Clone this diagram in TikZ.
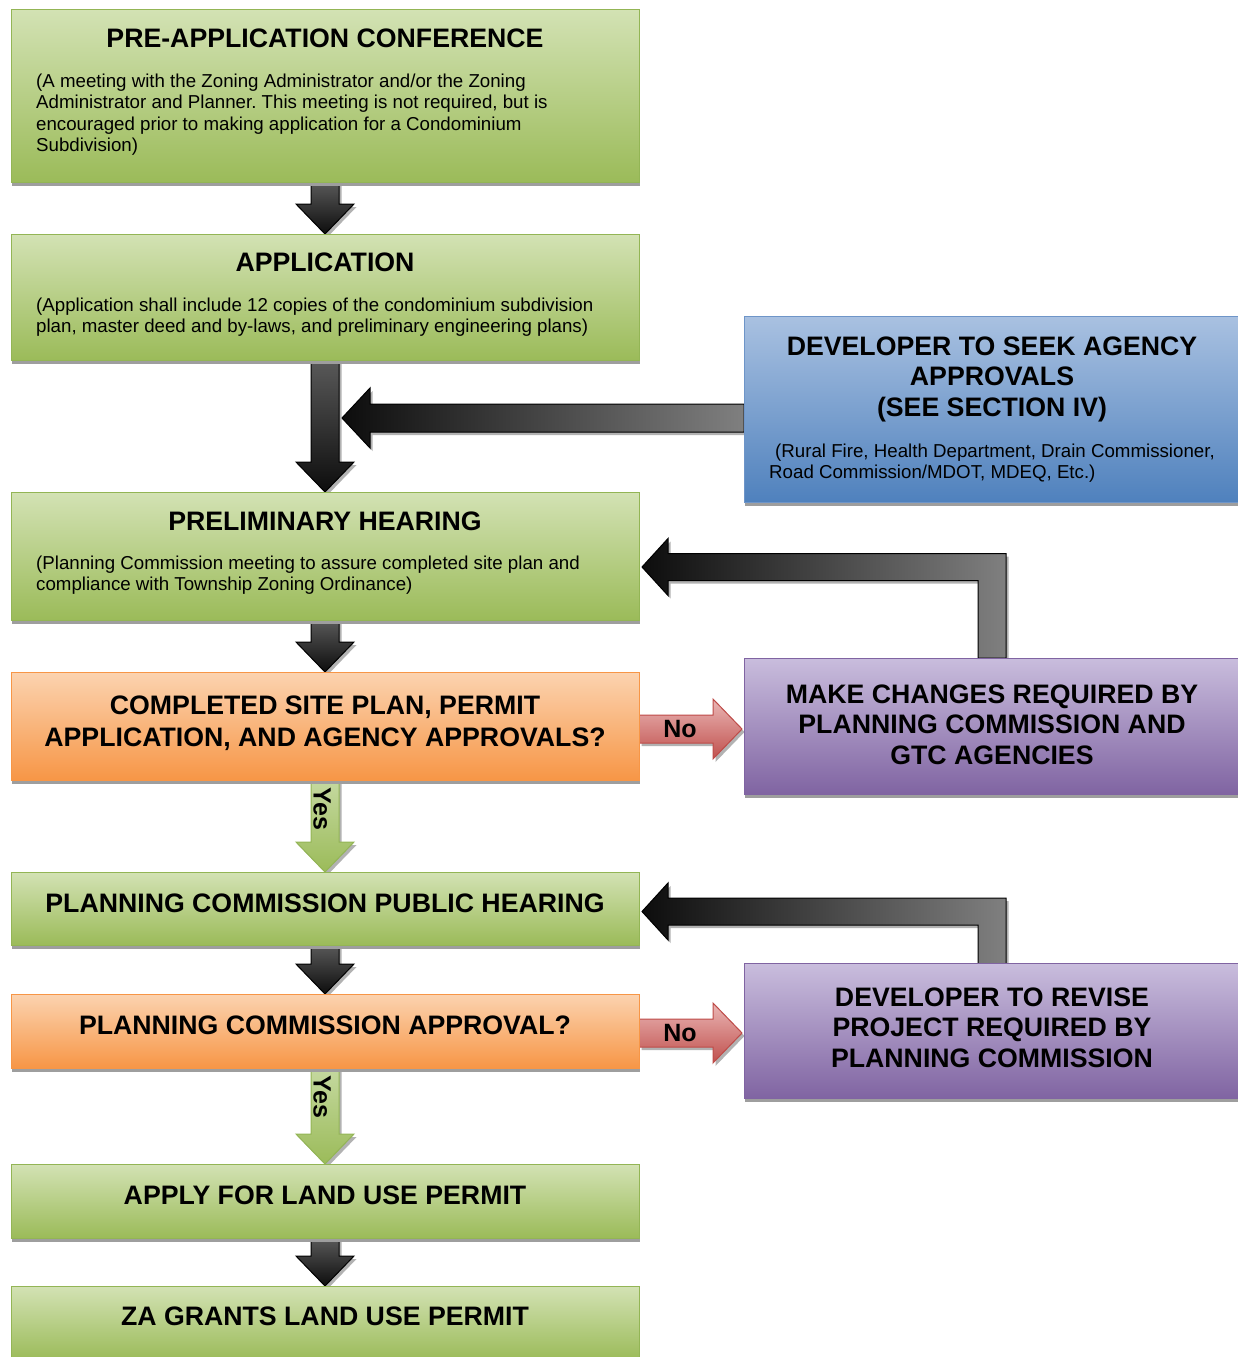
\documentclass[tikz,border=0pt]{standalone}
\usepackage{fontspec}
\setmainfont{Liberation Sans}
\usetikzlibrary{positioning,calc,shadows,backgrounds}
\frenchspacing

\definecolor{greentop}{HTML}{D3E2B4}
\definecolor{greenbot}{HTML}{9BBB59}
\definecolor{greenline}{HTML}{93B555}
\definecolor{yestop}{HTML}{C5D9A0}
\definecolor{orangetop}{HTML}{FBD3B0}
\definecolor{orangebot}{HTML}{F79646}
\definecolor{orangeline}{HTML}{F79646}
\definecolor{bluetop}{HTML}{A9C1E1}
\definecolor{bluebot}{HTML}{4F81BD}
\definecolor{blueline}{HTML}{6E95C8}
\definecolor{purptop}{HTML}{C9BDDD}
\definecolor{purpbot}{HTML}{8064A2}
\definecolor{purpline}{HTML}{8064A2}
\definecolor{redtop}{HTML}{EAB6B5}
\definecolor{redbot}{HTML}{C0504D}
\definecolor{redline}{HTML}{BE4B48}

% fat down arrow: style, from node, to node
\newcommand{\fatdown}[3]{%
    \path[#1] ($(#2.south)+(-14,0)$) -- ($(#3.north)+(-14,-30)$) -- ($(#3.north)+(-29,-30)$) -- (#3.north)
        -- ($(#3.north)+(29,-30)$) -- ($(#3.north)+(14,-30)$) -- ($(#2.south)+(14,0)$) -- cycle;}

\begin{document}
\begin{tikzpicture}[x=1pt,y=-1pt,node distance=52pt,
    box/.style={minimum width=628pt,inner sep=0pt,outer sep=0pt,line width=1pt,
        drop shadow={shadow xshift=1pt,shadow yshift=-3.5pt,fill=black!38,opacity=1}},
    greenbox/.style={box,draw=greenline,top color=greentop,bottom color=greenbot},
    orangebox/.style={box,draw=orangeline,top color=orangetop,bottom color=orangebot},
    bluebox/.style={box,minimum width=496pt,draw=blueline,top color=bluetop,bottom color=bluebot},
    purplebox/.style={box,minimum width=496pt,draw=purpline,top color=purptop,bottom color=purpbot},
    head/.style={inner sep=0pt,font=\fontsize{26.7}{30.5}\selectfont\bfseries,align=center},
    note/.style={inner sep=0pt,font=\fontsize{18.7}{21.3}\selectfont,align=left},
    answer/.style={inner sep=0pt,font=\fontsize{25}{25}\selectfont\bfseries},
    shadowed/.style={drop shadow={shadow xshift=2.5pt,shadow yshift=-3pt,fill=black!30,opacity=1}},
    darkarrow/.style={shadowed,draw=black,line width=1pt,top color=black!65,bottom color=black!95},
    backarrow/.style={shadowed,draw=black,line width=1pt,left color=black!95,right color=black!50},
    noarrow/.style={shadowed,draw=redline,line width=1pt,top color=redtop,bottom color=redbot},
    yesarrow/.style={shadowed,draw=greenline,line width=1pt,top color=yestop,bottom color=greenbot}
    ]
    \useasboundingbox (0,0) rectangle (1238,1357);

    % left column
    \node[greenbox,minimum height=173pt,anchor=north west] (pre) at (11,9) {};
    \node[greenbox,minimum height=126pt,below=of pre] (app) {};
    \node[greenbox,minimum height=128pt,below=132pt of app] (prelim) {};
    \node[orangebox,minimum height=108pt,below=of prelim] (dec1) {};
    \node[greenbox,minimum height=73pt,below=92pt of dec1] (public) {};
    \node[orangebox,minimum height=74pt,below=49pt of public] (dec2) {};
    \node[greenbox,minimum height=74pt,below=96pt of dec2] (apply) {};
    \node[greenbox,minimum height=74pt,below=48pt of apply] (grant) {};

    % right column
    \node[bluebox,minimum height=186pt,anchor=north west] (agency) at (744,316) {};
    \node[purplebox,minimum height=136pt,right=105pt of dec1] (fix1) {};
    \node[purplebox,minimum height=135pt,right=105pt of dec2] (fix2) {};

    % texts (base = last line)
    \node[head,anchor=base] (pre-t) at ([yshift=-38pt]pre.north) {PRE-APPLICATION CONFERENCE};
    \node[note,anchor=base west] (pre-n) at ([xshift=25pt,yshift=-142.4pt]pre.north west)
        {(A meeting with the Zoning Administrator and/or the Zoning\\
         Administrator and Planner. This meeting is not required, but is\\
         encouraged prior to making application for a Condominium\\
         Subdivision)};
    \node[head,anchor=base] (app-t) at ([yshift=-37pt]app.north) {APPLICATION};
    \node[note,anchor=base west] (app-n) at ([xshift=25pt,yshift=-98.8pt]app.north west)
        {(Application shall include 12 copies of the condominium subdivision\\
         plan, master deed and by-laws, and preliminary engineering plans)};
    \node[head,anchor=base] (prelim-t) at ([yshift=-38pt]prelim.north) {PRELIMINARY HEARING};
    \node[note,anchor=base west] (prelim-n) at ([xshift=25pt,yshift=-98.8pt]prelim.north west)
        {(Planning Commission meeting to assure completed site plan and\\
         compliance with Township Zoning Ordinance)};
    \node[head,anchor=base,font=\fontsize{26.7}{32}\selectfont\bfseries] (dec1-t) at ([yshift=-74pt]dec1.north)
        {COMPLETED SITE PLAN, PERMIT\\ APPLICATION, AND AGENCY APPROVALS?};
    \node[head,anchor=base] (public-t) at ([yshift=-40pt]public.north) {PLANNING COMMISSION PUBLIC HEARING};
    \node[head,anchor=base] (dec2-t) at ([yshift=-40pt]dec2.north) {PLANNING COMMISSION APPROVAL?};
    \node[head,anchor=base] (apply-t) at ([yshift=-40pt]apply.north) {APPLY FOR LAND USE PERMIT};
    \node[head,anchor=base] (grant-t) at ([yshift=-39pt]grant.north) {ZA GRANTS LAND USE PERMIT};
    \node[head,anchor=base] (agency-t) at ([yshift=-100.3pt]agency.north)
        {DEVELOPER TO SEEK AGENCY\\ APPROVALS\\ (SEE SECTION IV)};
    \node[note,anchor=base west] (agency-n) at ([xshift=25pt,yshift=-162.3pt]agency.north west)
        {\hspace{6pt}(Rural Fire, Health Department, Drain Commissioner,\\
         Road Commission/MDOT, MDEQ, Etc.)};
    \node[head,anchor=base] (fix1-t) at ([yshift=-106.3pt]fix1.north)
        {MAKE CHANGES REQUIRED BY\\ PLANNING COMMISSION AND\\ GTC AGENCIES};
    \node[head,anchor=base] (fix2-t) at ([yshift=-103.8pt]fix2.north)
        {DEVELOPER TO REVISE\\ PROJECT REQUIRED BY\\ PLANNING COMMISSION};

    % arrow tips
    \coordinate (t1) at ($(app.south |- agency.west)+(17,9)$);
    \coordinate (t2) at ($(prelim.east)+(3,11)$);
    \coordinate (t3) at ($(public.east)+(3,3)$);
    \coordinate (n1) at ($(fix1.west)+(-2,3)$);
    \coordinate (n2) at ($(fix2.west)+(-2,2)$);

    \begin{scope}[on background layer]
    \foreach \a/\b in {pre/app,app/prelim,prelim/dec1,public/dec2,apply/grant}
        {\fatdown{darkarrow}{\a}{\b}}
    \fatdown{yesarrow}{dec1}{public}
    \fatdown{yesarrow}{dec2}{apply}
    \path[backarrow] ($(t1 -| agency.west)+(0,-14)$) -- ($(t1)+(28,-14)$) -- ($(t1)+(28,-30)$) -- (t1)
        -- ($(t1)+(28,30)$) -- ($(t1)+(28,14)$) -- ($(t1 -| agency.west)+(0,14)$) -- cycle;
    \path[backarrow] ($(fix1.north)+(-14,0)$) -- ($(fix1.north |- t2)+(-14,13.5)$) -- ($(t2)+(26,13.5)$)
        -- ($(t2)+(26,28.5)$) -- (t2) -- ($(t2)+(26,-28.5)$) -- ($(t2)+(26,-13.5)$)
        -- ($(fix1.north |- t2)+(14,-13.5)$) -- ($(fix1.north)+(14,0)$) -- cycle;
    \path[backarrow] ($(fix2.north)+(-14,0)$) -- ($(fix2.north |- t3)+(-14,13.5)$) -- ($(t3)+(26,13.5)$)
        -- ($(t3)+(26,28.5)$) -- (t3) -- ($(t3)+(26,-28.5)$) -- ($(t3)+(26,-13.5)$)
        -- ($(fix2.north |- t3)+(14,-13.5)$) -- ($(fix2.north)+(14,0)$) -- cycle;
    \path[noarrow] ($(n1 -| dec1.east)+(0,-14)$) -- ($(n1)+(-29,-14)$) -- ($(n1)+(-29,-30)$) -- (n1)
        -- ($(n1)+(-29,30)$) -- ($(n1)+(-29,14)$) -- ($(n1 -| dec1.east)+(0,14)$) -- cycle;
    \path[noarrow] ($(n2 -| dec2.east)+(0,-14)$) -- ($(n2)+(-29,-14)$) -- ($(n2)+(-29,-30)$) -- (n2)
        -- ($(n2)+(-29,30)$) -- ($(n2)+(-29,14)$) -- ($(n2 -| dec2.east)+(0,14)$) -- cycle;
    \end{scope}

    % answers
    \node[answer] (no1) at ($(n1 -| dec1.east)+(41,0)$) {No};
    \node[answer] (no2) at ($(n2 -| dec2.east)+(41,0)$) {No};
    \node[answer,rotate=-90] (yes1) at ($(dec1.south)+(-3,29)$) {Yes};
    \node[answer,rotate=-90] (yes2) at ($(dec2.south)+(-3,29)$) {Yes};
\end{tikzpicture}
\end{document}
